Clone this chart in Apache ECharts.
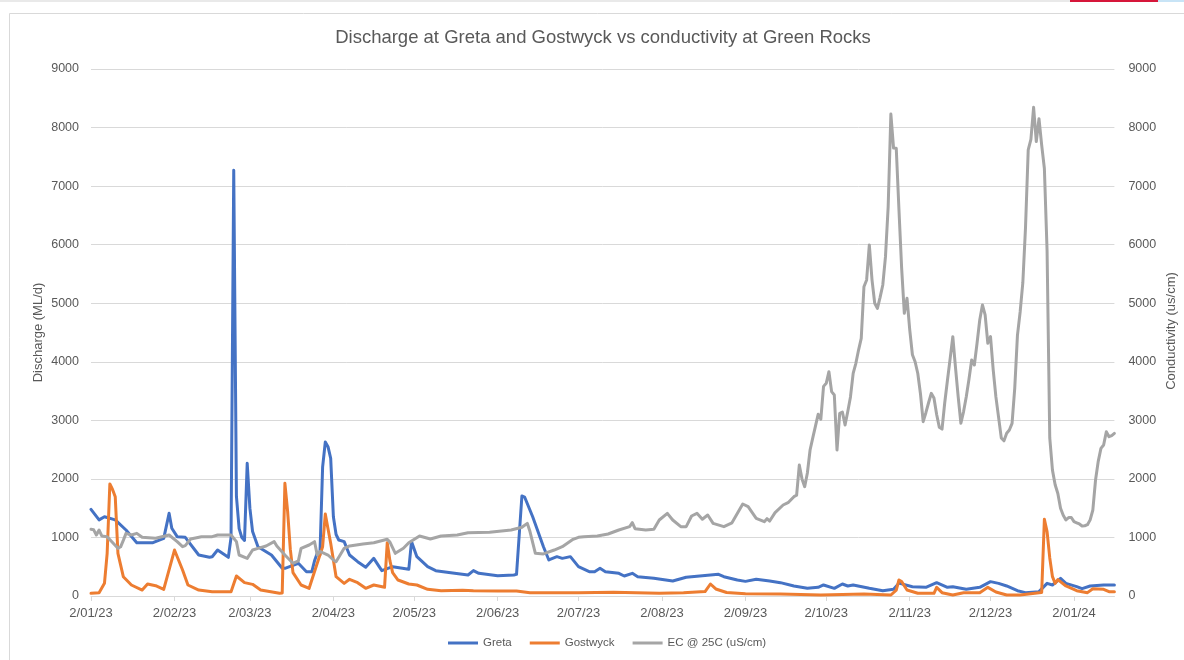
<!DOCTYPE html>
<html>
<head>
<meta charset="utf-8">
<script src="https://cdn.jsdelivr.net/npm/echarts@6/dist/echarts.min.js"></script>
<style>
html,body{margin:0;padding:0;background:#fff;}
#chart{width:1184px;height:660px;}
</style>
</head>
<body>
<div id="chart"></div>
<script>
// ---- data ----
const chartTitle = 'Discharge at Greta and Gostwyck vs conductivity at Green Rocks';
const leftAxisName = 'Discharge (ML/d)';
const rightAxisName = 'Conductivity (us/cm)';
const seriesNames = ['Greta', 'Gostwyck', 'EC @ 25C (uS/cm)'];
const xTickLabels = ['2/01/23','2/02/23','2/03/23','2/04/23','2/05/23','2/06/23','2/07/23','2/08/23','2/09/23','2/10/23','2/11/23','2/12/23','2/01/24'];
const xStart = '2023-01-02';
const xEnd = '2024-01-17';

const greta = [
['2023-01-02',1480],['2023-01-05',1300],['2023-01-07',1354],['2023-01-11',1300],['2023-01-15',1127],['2023-01-19',910],['2023-01-25',910],['2023-01-29',985],['2023-01-31',1412],['2023-02-01',1156],['2023-02-03',1013],['2023-02-06',1002],['2023-02-11',700],['2023-02-15',661],['2023-02-16',670],['2023-02-18',785],['2023-02-22',660],['2023-02-23',1000],['2023-02-24',7270],['2023-02-25',1700],['2023-02-26',1150],['2023-02-27',1000],['2023-02-28',950],['2023-03-01',2266],['2023-03-02',1500],['2023-03-03',1100],['2023-03-05',842],['2023-03-10',700],['2023-03-14',473],['2023-03-15',473],['2023-03-20',558],['2023-03-23',415],['2023-03-25',415],['2023-03-26',600],['2023-03-27',729],['2023-03-28',700],['2023-03-29',2200],['2023-03-30',2630],['2023-03-31',2550],['2023-04-01',2350],['2023-04-02',1354],['2023-04-03',1050],['2023-04-04',956],['2023-04-06',928],['2023-04-08',700],['2023-04-11',586],['2023-04-14',490],['2023-04-17',643],['2023-04-19',501],['2023-04-20',433],['2023-04-24',501],['2023-04-30',456],['2023-05-01',930],['2023-05-03',672],['2023-05-07',501],['2023-05-10',433],['2023-05-17',387],['2023-05-22',359],['2023-05-24',433],['2023-05-26',387],['2023-06-02',347],['2023-06-08',359],['2023-06-09',370],['2023-06-11',1708],['2023-06-12',1690],['2023-06-15',1354],['2023-06-19',842],['2023-06-21',615],['2023-06-24',672],['2023-06-26',643],['2023-06-29',672],['2023-07-02',501],['2023-07-06',415],['2023-07-08',415],['2023-07-10',473],['2023-07-12',415],['2023-07-17',387],['2023-07-19',341],['2023-07-22',387],['2023-07-24',330],['2023-07-30',302],['2023-08-06',256],['2023-08-11',319],['2023-08-16',341],['2023-08-23',370],['2023-08-25',330],['2023-08-30',273],['2023-09-02',250],['2023-09-06',285],['2023-09-11',256],['2023-09-15',228],['2023-09-20',171],['2023-09-25',131],['2023-09-29',148],['2023-10-01',188],['2023-10-05',131],['2023-10-08',205],['2023-10-10',171],['2023-10-12',188],['2023-10-18',131],['2023-10-23',91],['2023-10-27',114],['2023-10-29',220],['2023-11-03',159],['2023-11-08',148],['2023-11-12',228],['2023-11-16',148],['2023-11-18',159],['2023-11-23',114],['2023-11-28',148],['2023-12-02',245],['2023-12-05',216],['2023-12-08',171],['2023-12-12',91],['2023-12-15',57],['2023-12-20',74],['2023-12-23',216],['2023-12-25',188],['2023-12-28',302],['2023-12-30',216],['2024-01-03',159],['2024-01-05',125],['2024-01-08',171],['2024-01-13',188],['2024-01-17',188]
];

const gostwyck = [
['2023-01-02',46],['2023-01-05',57],['2023-01-07',216],['2023-01-08',729],['2023-01-09',1913],['2023-01-10',1820],['2023-01-11',1696],['2023-01-12',729],['2023-01-14',330],['2023-01-17',188],['2023-01-21',102],['2023-01-23',205],['2023-01-26',176],['2023-01-29',114],['2023-02-02',785],['2023-02-05',444],['2023-02-07',188],['2023-02-11',102],['2023-02-16',74],['2023-02-23',74],['2023-02-25',341],['2023-02-28',228],['2023-03-03',199],['2023-03-06',102],['2023-03-13',46],['2023-03-14',50],['2023-03-15',1925],['2023-03-16',1450],['2023-03-17',800],['2023-03-18',400],['2023-03-21',188],['2023-03-24',131],['2023-03-27',558],['2023-03-29',842],['2023-03-30',1400],['2023-03-31',1150],['2023-04-01',900],['2023-04-03',330],['2023-04-06',216],['2023-04-08',285],['2023-04-11',228],['2023-04-14',131],['2023-04-17',188],['2023-04-21',148],['2023-04-22',910],['2023-04-23',600],['2023-04-24',400],['2023-04-26',273],['2023-04-30',205],['2023-05-03',188],['2023-05-07',114],['2023-05-12',91],['2023-05-20',100],['2023-05-24',91],['2023-06-02',85],['2023-06-09',85],['2023-06-14',57],['2023-06-26',57],['2023-07-02',57],['2023-07-15',65],['2023-08-01',46],['2023-08-10',57],['2023-08-18',75],['2023-08-20',205],['2023-08-22',120],['2023-08-26',60],['2023-09-02',40],['2023-09-15',35],['2023-09-30',17],['2023-10-16',34],['2023-10-26',17],['2023-10-28',102],['2023-10-29',273],['2023-10-30',245],['2023-11-01',102],['2023-11-05',46],['2023-11-11',46],['2023-11-12',148],['2023-11-14',57],['2023-11-18',17],['2023-11-22',57],['2023-11-28',57],['2023-12-01',148],['2023-12-04',68],['2023-12-08',17],['2023-12-13',17],['2023-12-20',57],['2023-12-21',60],['2023-12-22',1310],['2023-12-23',1100],['2023-12-24',650],['2023-12-25',330],['2023-12-26',216],['2023-12-27',280],['2023-12-30',171],['2024-01-03',91],['2024-01-07',57],['2024-01-09',125],['2024-01-13',114],['2024-01-15',74],['2024-01-17',74]
];

const ec = [
['2023-01-02',1139],['2023-01-03',1130],['2023-01-04',1042],['2023-01-05',1127],['2023-01-06',1025],['2023-01-08',1013],['2023-01-12',814],['2023-01-13',840],['2023-01-14',950],['2023-01-15',1070],['2023-01-17',1042],['2023-01-19',1070],['2023-01-21',1002],['2023-01-26',985],['2023-01-31',1042],['2023-02-03',928],['2023-02-05',842],['2023-02-06',860],['2023-02-08',973],['2023-02-12',1013],['2023-02-16',1013],['2023-02-18',1042],['2023-02-23',1042],['2023-02-25',928],['2023-02-26',700],['2023-03-01',643],['2023-03-03',785],['2023-03-05',814],['2023-03-08',854],['2023-03-11',928],['2023-03-12',854],['2023-03-15',700],['2023-03-18',558],['2023-03-20',600],['2023-03-21',814],['2023-03-24',871],['2023-03-26',928],['2023-03-27',700],['2023-03-28',760],['2023-03-31',700],['2023-04-02',615],['2023-04-03',586],['2023-04-06',814],['2023-04-08',854],['2023-04-13',888],['2023-04-17',910],['2023-04-22',968],['2023-04-23',920],['2023-04-25',729],['2023-04-28',814],['2023-04-30',910],['2023-05-04',1025],['2023-05-06',1000],['2023-05-08',973],['2023-05-12',1025],['2023-05-18',1042],['2023-05-22',1081],['2023-05-30',1087],['2023-06-07',1127],['2023-06-11',1173],['2023-06-13',1241],['2023-06-14',1100],['2023-06-16',729],['2023-06-19',718],['2023-06-23',785],['2023-06-26',842],['2023-06-30',968],['2023-07-02',1002],['2023-07-04',1013],['2023-07-09',1025],['2023-07-13',1059],['2023-07-17',1127],['2023-07-21',1184],['2023-07-22',1252],['2023-07-23',1150],['2023-07-27',1127],['2023-07-30',1138],['2023-08-01',1298],['2023-08-04',1412],['2023-08-06',1298],['2023-08-09',1184],['2023-08-11',1184],['2023-08-13',1366],['2023-08-15',1412],['2023-08-17',1310],['2023-08-19',1383],['2023-08-21',1241],['2023-08-25',1184],['2023-08-28',1250],['2023-09-01',1571],['2023-09-03',1525],['2023-09-06',1327],['2023-09-09',1269],['2023-09-10',1320],['2023-09-11',1280],['2023-09-13',1423],['2023-09-16',1554],['2023-09-18',1600],['2023-09-20',1696],['2023-09-21',1720],['2023-09-22',2237],['2023-09-23',2000],['2023-09-24',1867],['2023-09-25',2100],['2023-09-26',2493],['2023-09-27',2700],['2023-09-28',2900],['2023-09-29',3103],['2023-09-30',3020],['2023-10-01',3580],['2023-10-02',3632],['2023-10-03',3831],['2023-10-04',3490],['2023-10-05',3433],['2023-10-06',2493],['2023-10-07',3120],['2023-10-08',3140],['2023-10-09',2920],['2023-10-10',3150],['2023-10-11',3400],['2023-10-12',3803],['2023-10-13',3974],['2023-10-14',4200],['2023-10-15',4401],['2023-10-16',5282],['2023-10-17',5397],['2023-10-18',5995],['2023-10-19',5400],['2023-10-20',4999],['2023-10-21',4913],['2023-10-22',5100],['2023-10-23',5311],['2023-10-24',5795],['2023-10-25',6650],['2023-10-26',8230],['2023-10-27',7650],['2023-10-28',7646],['2023-10-29',6600],['2023-10-30',5600],['2023-10-31',4828],['2023-11-01',5084],['2023-11-02',4550],['2023-11-03',4120],['2023-11-04',4000],['2023-11-05',3800],['2023-11-06',3450],['2023-11-07',2977],['2023-11-08',3130],['2023-11-09',3300],['2023-11-10',3461],['2023-11-11',3380],['2023-11-12',3100],['2023-11-13',2880],['2023-11-14',2850],['2023-11-15',3300],['2023-11-16',3680],['2023-11-17',4050],['2023-11-18',4429],['2023-11-19',3900],['2023-11-20',3400],['2023-11-21',2950],['2023-11-22',3150],['2023-11-23',3404],['2023-11-24',3700],['2023-11-25',4031],['2023-11-26',3945],['2023-11-27',4316],['2023-11-28',4714],['2023-11-29',4970],['2023-11-30',4800],['2023-12-01',4316],['2023-12-02',4429],['2023-12-03',3860],['2023-12-04',3400],['2023-12-05',3050],['2023-12-06',2700],['2023-12-07',2650],['2023-12-08',2779],['2023-12-09',2835],['2023-12-10',2949],['2023-12-11',3550],['2023-12-12',4450],['2023-12-13',4850],['2023-12-14',5350],['2023-12-15',6300],['2023-12-16',7617],['2023-12-17',7800],['2023-12-18',8346],['2023-12-19',7760],['2023-12-20',8150],['2023-12-21',7700],['2023-12-22',7300],['2023-12-23',5900],['2023-12-24',2700],['2023-12-25',2150],['2023-12-26',1900],['2023-12-27',1750],['2023-12-28',1500],['2023-12-29',1380],['2023-12-30',1300],['2023-12-31',1340],['2024-01-01',1340],['2024-01-02',1270],['2024-01-03',1250],['2024-01-04',1230],['2024-01-05',1195],['2024-01-06',1200],['2024-01-07',1218],['2024-01-08',1300],['2024-01-09',1469],['2024-01-10',1981],['2024-01-11',2300],['2024-01-12',2522],['2024-01-13',2579],['2024-01-14',2806],['2024-01-15',2720],['2024-01-16',2740],['2024-01-17',2778]
];

const yMax = 9000;
const yStep = 1000;
const colors = ['#4472C4', '#ED7D31', '#A5A5A5'];

// ---- build ----
function parseIso(s){ const p = s.split('-').map(Number); return Date.UTC(p[0], p[1]-1, p[2]); }
function parseTick(s){ const p = s.split('/').map(Number); return Date.UTC(2000+p[2], p[1]-1, p[0]); }
const tickValues = xTickLabels.map(parseTick);
const tickMap = {};
tickValues.forEach((v,i)=>{ tickMap[v] = xTickLabels[i]; });
const toSeries = arr => arr.map(d => [parseIso(d[0]), d[1]]);

const textColor = '#595959';
const fontFam = '"Liberation Sans", Arial, sans-serif';

const chart = echarts.init(document.getElementById('chart'), null, {renderer:'canvas'});
chart.setOption({
  animation: false,
  backgroundColor: '#ffffff',
  textStyle: {fontFamily: fontFam},
  title: {
    text: chartTitle,
    left: 598, top: 23, textAlign: 'center',
    textStyle: {fontSize: 18.5, fontWeight: 'normal', color: textColor, fontFamily: fontFam}
  },
  graphic: [
    {type:'rect', shape:{x:0,y:0,width:1184,height:2}, style:{fill:'#e9e9e9'}, silent:true},
    {type:'rect', shape:{x:1070,y:0,width:88,height:2}, style:{fill:'#d6173a'}, silent:true},
    {type:'rect', shape:{x:1158,y:0,width:26,height:2}, style:{fill:'#c8e4f6'}, silent:true},
    {type:'rect', shape:{x:9.5,y:13.5,width:1200,height:700}, style:{fill:'none', stroke:'#d9d9d9', lineWidth:1}, silent:true},
    {type:'text', x:38, y:332.5, rotation: Math.PI/2, silent:true,
     style:{text:leftAxisName, fill:textColor, font:'13px ' + fontFam, align:'center', verticalAlign:'middle'}},
    {type:'text', x:1171, y:331, rotation: Math.PI/2, silent:true,
     style:{text:rightAxisName, fill:textColor, font:'13px ' + fontFam, align:'center', verticalAlign:'middle'}}
  ],
  legend: {
    data: seriesNames,
    left: 443, top: 632,
    icon: 'rect',
    itemWidth: 30, itemHeight: 3, itemGap: 18,
    textStyle: {fontSize: 11.5, color: textColor, fontFamily: fontFam}
  },
  grid: {left: 91, right: 69.6, top: 69, bottom: 64, containLabel: false},
  xAxis: {
    type: 'value',
    min: parseIso(xStart), max: parseIso(xEnd),
    axisLine: {show: true, lineStyle: {color: '#d9d9d9', width: 1}},
    axisTick: {show: true, customValues: tickValues, length: 5, lineStyle: {color: '#d9d9d9'}},
    axisLabel: {
      customValues: tickValues,
      formatter: v => tickMap[v] !== undefined ? tickMap[v] : '',
      color: textColor, fontSize: 13, margin: 11, fontFamily: fontFam
    },
    splitLine: {show: false},
    minorTick: {show: false}
  },
  yAxis: [
    {
      type: 'value', min: 0, max: yMax, interval: yStep,
      axisLine: {show: false}, axisTick: {show: false},
      axisLabel: {color: textColor, fontSize: 12.5, margin: 12, fontFamily: fontFam, formatter: v => String(v)},
      splitLine: {show: true, lineStyle: {color: '#d9d9d9', width: 1}}
    },
    {
      type: 'value', min: 0, max: yMax, interval: yStep, position: 'right',
      axisLine: {show: false}, axisTick: {show: false},
      axisLabel: {color: textColor, fontSize: 12.5, margin: 14, fontFamily: fontFam, formatter: v => String(v)},
      splitLine: {show: false}
    }
  ],
  series: [
    {name: seriesNames[0], type: 'line', yAxisIndex: 0, data: toSeries(greta), symbol: 'none', smooth: false,
     lineStyle: {color: colors[0], width: 3, join: 'round', cap: 'round'}, itemStyle: {color: colors[0]}},
    {name: seriesNames[1], type: 'line', yAxisIndex: 0, data: toSeries(gostwyck), symbol: 'none', smooth: false,
     lineStyle: {color: colors[1], width: 3, join: 'round', cap: 'round'}, itemStyle: {color: colors[1]}},
    {name: seriesNames[2], type: 'line', yAxisIndex: 1, data: toSeries(ec), symbol: 'none', smooth: false,
     lineStyle: {color: colors[2], width: 3, join: 'round', cap: 'round'}, itemStyle: {color: colors[2]}}
  ]
});
</script>
</body>
</html>
